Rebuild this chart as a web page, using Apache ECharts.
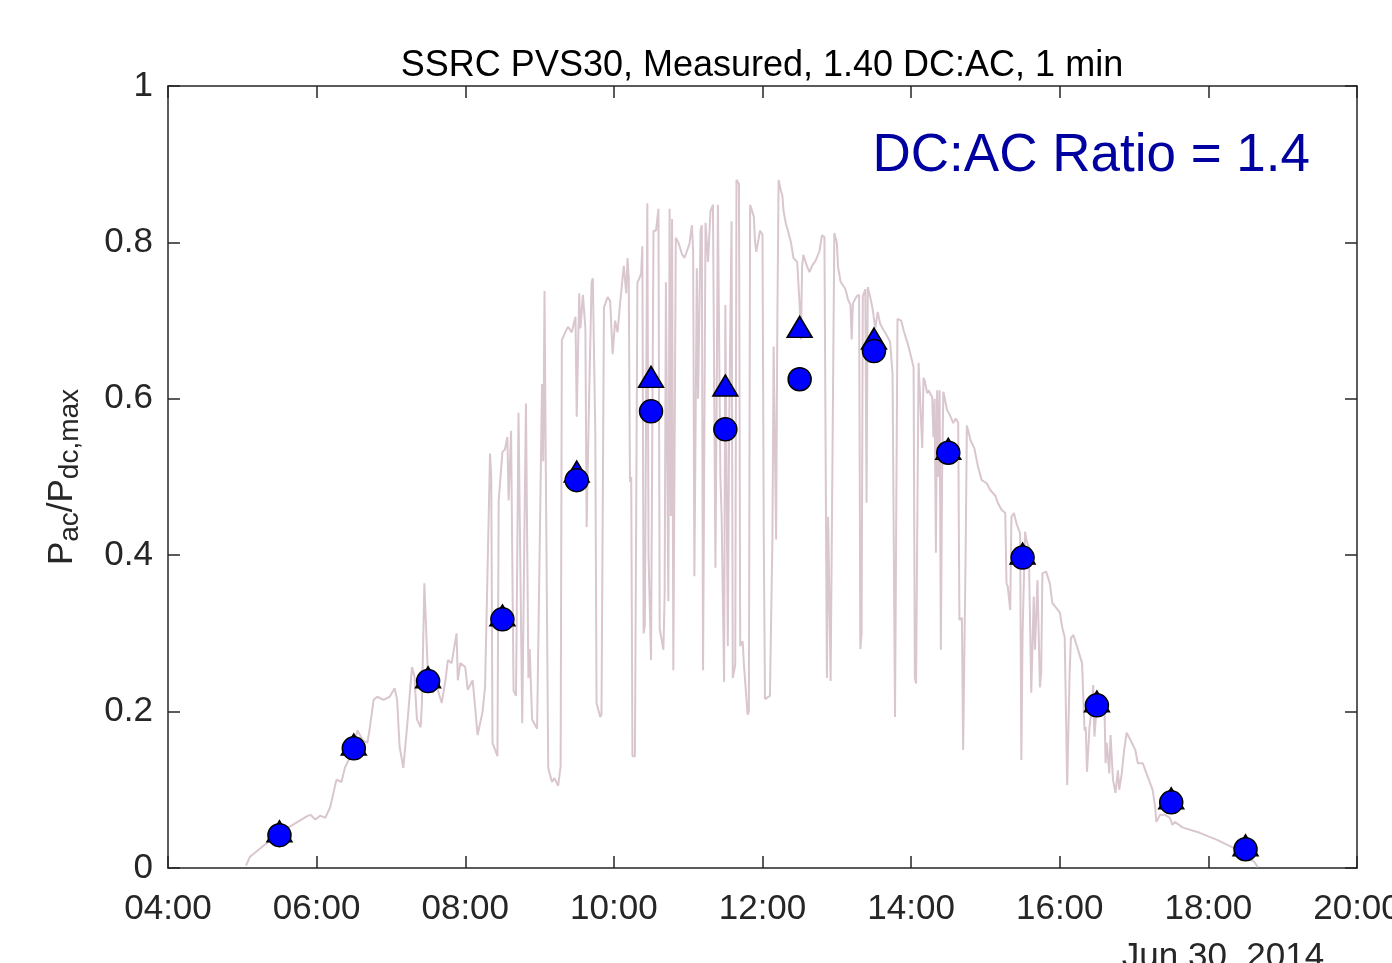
<!DOCTYPE html>
<html>
<head>
<meta charset="utf-8">
<script src="https://cdn.jsdelivr.net/npm/echarts@6/dist/echarts.min.js"></script>
<style>
html,body{margin:0;padding:0;background:#fff;}
#chart{width:1392px;height:963px;}
</style>
</head>
<body>
<div id="chart"></div>
<script>
// ---- data ----
const xTickLabels = ['04:00','06:00','08:00','10:00','12:00','14:00','16:00','18:00','20:00'];
const yTickLabels = ['0','0.2','0.4','0.6','0.8','1'];
const markerTimes = ['05:30','06:30','07:30','08:30','09:30','10:30','11:30','12:30','13:30','14:30','15:30','16:30','17:30','18:30'];
const circleValues = [0.042,0.153,0.239,0.318,0.496,0.584,0.561,0.625,0.661,0.531,0.397,0.208,0.084,0.024];
const triangleValues = [0.047,0.158,0.244,0.323,0.507,0.628,0.617,0.692,0.677,0.536,0.402,0.213,0.089,0.029];
const powerTrace = [
['05:03',0.003],['05:06',0.014],['05:30',0.045],['05:52',0.066],['05:55',0.068],['05:59',0.062],['06:03',0.067],['06:07',0.064],
['06:11',0.078],['06:16',0.113],['06:20',0.110],['06:23',0.129],['06:27',0.142],['06:29',0.152],['06:33',0.176],['06:37',0.164],
['06:41',0.160],['06:43',0.180],['06:46',0.215],['06:49',0.219],['06:54',0.215],['06:59',0.219],['07:03',0.230],['07:05',0.215],
['07:07',0.155],['07:10',0.128],['07:13',0.180],['07:17',0.257],['07:19',0.245],['07:21',0.190],['07:24',0.180],['07:25',0.210],
['07:27',0.364],['07:28',0.364],['07:30',0.240],['07:31',0.236],['07:34',0.224],['07:37',0.232],['07:41',0.211],['07:44',0.240],
['07:46',0.266],['07:49',0.262],['07:53',0.300],['07:54',0.240],['07:56',0.262],['08:00',0.257],['08:02',0.228],['08:06',0.240],
['08:10',0.170],['08:14',0.200],['08:16',0.232],['08:18',0.380],['08:20',0.530],['08:21',0.500],['08:22',0.160],['08:26',0.143],
['08:27',0.470],['08:30',0.532],['08:32',0.535],['08:34',0.551],['08:35',0.470],['08:37',0.559],['08:39',0.227],['08:41',0.220],
['08:43',0.582],['08:46',0.185],['08:49',0.594],['08:51',0.243],['08:52',0.280],['08:54',0.190],['08:58',0.178],['09:02',0.619],
['09:03',0.520],['09:04',0.738],['09:05',0.520],['09:07',0.128],['09:10',0.110],['09:12',0.115],['09:15',0.105],['09:17',0.130],
['09:18',0.675],['09:21',0.686],['09:23',0.692],['09:26',0.685],['09:29',0.705],['09:30',0.577],['09:32',0.735],['09:33',0.690],
['09:35',0.733],['09:37',0.690],['09:38',0.436],['09:40',0.600],['09:42',0.749],['09:43',0.754],['09:45',0.557],['09:46',0.211],
['09:49',0.193],['09:50',0.196],['09:52',0.717],['09:55',0.730],['09:57',0.725],['09:59',0.657],['10:01',0.700],['10:03',0.685],
['10:05',0.722],['10:08',0.770],['10:10',0.735],['10:11',0.780],['10:12',0.755],['10:13',0.494],['10:14',0.500],['10:15',0.143],
['10:17',0.143],['10:19',0.749],['10:20',0.752],['10:22',0.760],['10:23',0.795],['10:24',0.300],['10:25',0.310],['10:27',0.850],
['10:28',0.400],['10:30',0.266],['10:31',0.550],['10:32',0.815],['10:34',0.815],['10:36',0.843],['10:37',0.306],['10:40',0.279],
['10:41',0.350],['10:42',0.749],['10:44',0.341],['10:45',0.843],['10:46',0.450],['10:47',0.830],['10:48',0.253],['10:50',0.806],
['10:52',0.800],['10:55',0.785],['10:57',0.780],['11:01',0.798],['11:03',0.822],['11:04',0.790],['11:05',0.373],['11:07',0.767],
['11:08',0.600],['11:10',0.815],['11:11',0.822],['11:12',0.253],['11:14',0.825],['11:16',0.775],['11:18',0.840],['11:20',0.848],
['11:22',0.384],['11:23',0.600],['11:24',0.848],['11:26',0.500],['11:27',0.450],['11:29',0.238],['11:30',0.720],['11:32',0.284],
['11:33',0.550],['11:35',0.827],['11:36',0.243],['11:38',0.260],['11:39',0.880],['11:41',0.875],['11:42',0.284],['11:44',0.290],
['11:45',0.260],['11:48',0.196],['11:49',0.200],['11:50',0.848],['11:53',0.833],['11:54',0.800],['11:55',0.788],['11:58',0.815],
['12:00',0.810],['12:01',0.430],['12:02',0.216],['12:06',0.220],['12:08',0.420],['12:09',0.667],['12:11',0.420],['12:12',0.700],
['12:13',0.880],['12:15',0.865],['12:16',0.860],['12:17',0.840],['12:19',0.823],['12:20',0.818],['12:23',0.800],['12:25',0.780],
['12:28',0.775],['12:29',0.776],['12:30',0.720],['12:31',0.676],['12:32',0.770],['12:33',0.784],['12:36',0.769],['12:38',0.762],
['12:40',0.770],['12:43',0.777],['12:46',0.789],['12:48',0.809],['12:50',0.807],['12:52',0.243],['12:53',0.449],['12:55',0.239],
['12:56',0.240],['12:58',0.812],['13:00',0.800],['13:01',0.769],['13:03',0.750],['13:07',0.740],['13:09',0.727],['13:11',0.720],
['13:12',0.676],['13:13',0.722],['13:16',0.731],['13:18',0.733],['13:19',0.280],['13:20',0.300],['13:21',0.731],['13:23',0.740],
['13:24',0.467],['13:25',0.743],['13:27',0.730],['13:29',0.714],['13:31',0.690],['13:33',0.711],['13:35',0.696],['13:37',0.690],
['13:40',0.682],['13:43',0.673],['13:45',0.632],['13:47',0.193],['13:48',0.453],['13:49',0.702],['13:52',0.700],['13:54',0.687],
['13:57',0.672],['13:59',0.660],['14:02',0.640],['14:03',0.243],['14:04',0.236],['14:06',0.646],['14:07',0.645],['14:09',0.537],
['14:10',0.627],['14:11',0.623],['14:13',0.607],['14:14',0.611],['14:17',0.602],['14:18',0.551],['14:19',0.600],['14:20',0.403],
['14:21',0.611],['14:22',0.500],['14:23',0.611],['14:24',0.279],['14:25',0.500],['14:26',0.609],['14:29',0.586],['14:31',0.580],
['14:34',0.569],['14:36',0.575],['14:38',0.569],['14:39',0.317],['14:41',0.320],['14:42',0.151],['14:44',0.400],['14:45',0.566],
['14:48',0.547],['14:51',0.537],['14:54',0.513],['14:57',0.496],['15:01',0.492],['15:04',0.483],['15:08',0.476],['15:10',0.467],
['15:13',0.458],['15:16',0.454],['15:17',0.364],['15:18',0.360],['15:20',0.330],['15:21',0.449],['15:23',0.454],['15:25',0.441],
['15:28',0.428],['15:29',0.138],['15:30',0.300],['15:32',0.430],['15:33',0.420],['15:35',0.410],['15:37',0.224],['15:39',0.347],
['15:40',0.279],['15:42',0.368],['15:44',0.231],['15:45',0.250],['15:46',0.377],['15:49',0.379],['15:52',0.364],['15:54',0.339],
['15:57',0.333],['16:00',0.327],['16:02',0.308],['16:04',0.295],['16:05',0.200],['16:06',0.106],['16:08',0.250],['16:09',0.294],
['16:11',0.298],['16:14',0.283],['16:18',0.262],['16:20',0.176],['16:21',0.180],['16:22',0.123],['16:24',0.180],['16:26',0.206],
['16:27',0.234],['16:28',0.168],['16:30',0.210],['16:31',0.215],['16:32',0.222],['16:34',0.200],['16:36',0.215],['16:37',0.134],
['16:38',0.160],['16:40',0.121],['16:41',0.170],['16:43',0.113],['16:45',0.096],['16:47',0.125],['16:48',0.100],['16:50',0.120],
['16:52',0.151],['16:54',0.173],['16:57',0.164],['17:01',0.151],['17:03',0.134],['17:07',0.134],['17:10',0.121],['17:15',0.100],
['17:17',0.078],['17:18',0.059],['17:21',0.068],['17:25',0.068],['17:29',0.064],['17:31',0.055],['17:33',0.059],['17:39',0.052],
['17:53',0.045],['18:07',0.036],['18:20',0.026],['18:31',0.014],['18:37',0.008],['18:40',0.001]
];
const titleText = 'SSRC PVS30, Measured, 1.40 DC:AC, 1 min';
const ratioText = 'DC:AC Ratio = 1.4';
const dateText = 'Jun 30, 2014';

// ---- helpers ----
function toHours(t){ const p = t.split(':'); return +p[0] + (+p[1])/60; }
const FONT = '"Liberation Sans", Arial, Helvetica, sans-serif';
const AXC = '#262626';

const lineData = powerTrace.map(d => [toHours(d[0]), d[1]]);
const circleData = markerTimes.map((t,i) => [toHours(t), circleValues[i]]);
const triData = markerTimes.map((t,i) => [toHours(t), triangleValues[i]]);

const chart = echarts.init(document.getElementById('chart'), null, {renderer:'canvas'});

const axisLine = {show:true, onZero:false, lineStyle:{color:AXC, width:1.5}};
const tick = {show:true, inside:true, length:12, lineStyle:{color:AXC, width:1.5}};

chart.setOption({
  backgroundColor:'#ffffff',
  animation:false,
  grid:{left:168, top:86, width:1189, height:782, containLabel:false, outerBoundsMode:'none'},
  xAxis:[
    {type:'value', min:4, max:20, interval:2, position:'bottom',
     axisLine:axisLine, axisTick:tick, splitLine:{show:false},
     axisLabel:{show:true, showMinLabel:true, showMaxLabel:true, hideOverlap:false, margin:24,
       fontSize:35, color:AXC, fontFamily:FONT,
       formatter:v => xTickLabels[Math.round((v-4)/2)]}},
    {type:'value', min:4, max:20, interval:2, position:'top',
     axisLine:axisLine, axisTick:tick, splitLine:{show:false}, axisLabel:{show:false}}
  ],
  yAxis:[
    {type:'value', min:0, max:1, interval:0.2, position:'left',
     axisLine:axisLine, axisTick:tick, splitLine:{show:false},
     axisLabel:{show:true, margin:15, fontSize:35, color:AXC, fontFamily:FONT,
       formatter:v => yTickLabels[Math.round(v/0.2)]}},
    {type:'value', min:0, max:1, interval:0.2, position:'right',
     axisLine:axisLine, axisTick:tick, splitLine:{show:false}, axisLabel:{show:false}}
  ],
  series:[
    {type:'line', data:lineData, xAxisIndex:0, yAxisIndex:0, showSymbol:false, symbol:'none',
     lineStyle:{color:'#d9c6cf', width:2}, z:1, silent:true},
    {type:'scatter', data:triData, xAxisIndex:0, yAxisIndex:0, symbol:'triangle', symbolSize:[25,21],
     itemStyle:{color:'#0000ff', borderColor:'#000000', borderWidth:1.5, opacity:1}, z:2},
    {type:'scatter', data:circleData, xAxisIndex:0, yAxisIndex:0, symbol:'circle', symbolSize:23,
     itemStyle:{color:'#0000ff', borderColor:'#000000', borderWidth:1.5, opacity:1}, z:3}
  ],
  graphic:[
    {type:'text', x:762, y:66, z:10, style:{text:titleText, font:'36px '+FONT, fill:'#000000', align:'center', verticalAlign:'middle'}},
    {type:'text', x:1310, y:156, z:10, style:{text:ratioText, font:'53px '+FONT, fill:'#0000a0', align:'right', verticalAlign:'middle'}},
    {type:'text', x:1223, y:957, z:10, style:{text:dateText, font:'35px '+FONT, fill:AXC, align:'center', verticalAlign:'middle'}},
    {type:'text', x:62, y:477, rotation:Math.PI/2, z:10,
     style:{text:'{p|P}{s|ac}{p|/P}{s|dc,max}', align:'center', verticalAlign:'middle', fill:AXC,
       rich:{
         p:{fontSize:35, fontFamily:FONT, fill:AXC, lineHeight:40},
         s:{fontSize:28, fontFamily:FONT, fill:AXC, lineHeight:28, padding:[16,0,0,0]}
       }}}
  ]
});
</script>
</body>
</html>
